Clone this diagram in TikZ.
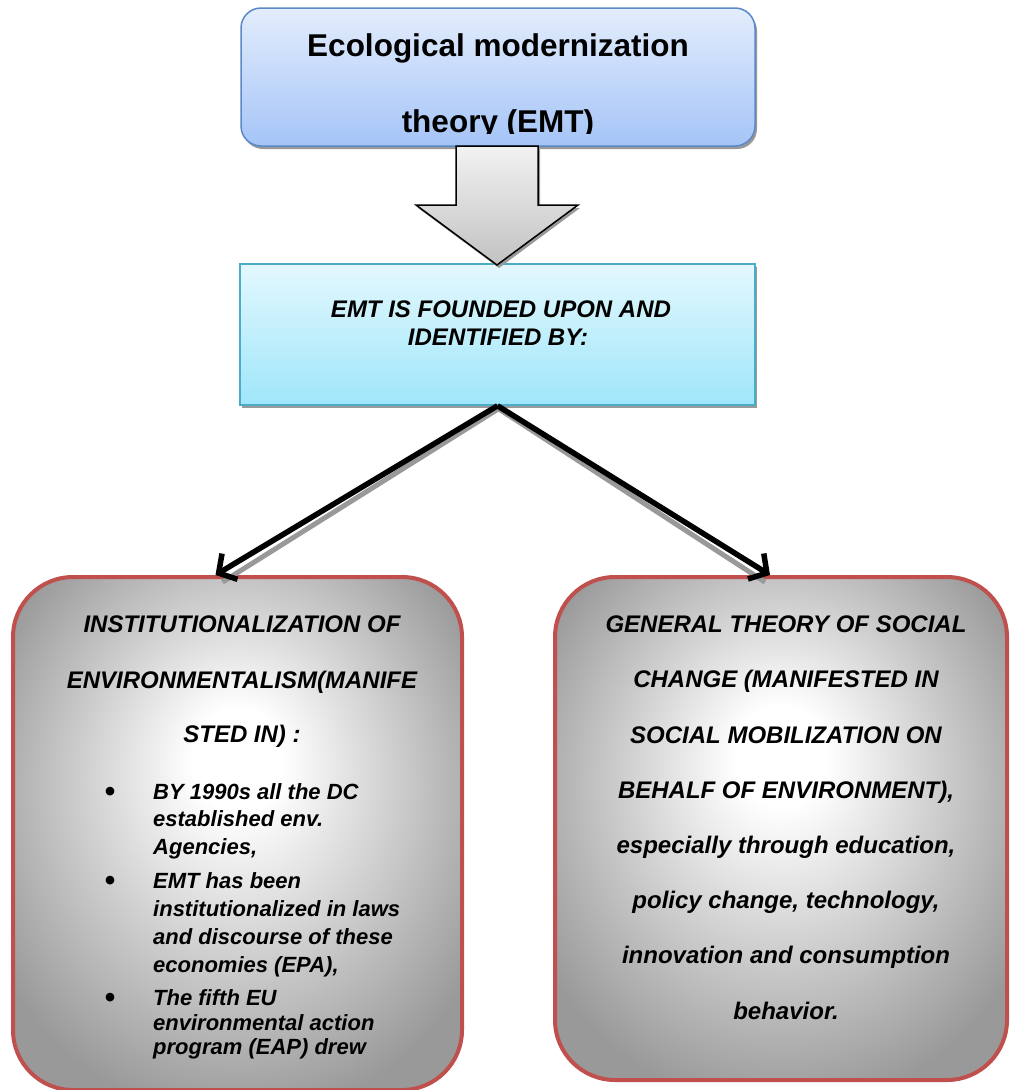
\documentclass[tikz,border=0pt]{standalone}
\usepackage{fontspec}
\setmainfont{Liberation Sans}
\usetikzlibrary{arrows.meta,shadows}
\definecolor{topA}{HTML}{E3EDFC}
\definecolor{topB}{HTML}{A5C4F7}
\definecolor{topLine}{HTML}{5A89C6}
\definecolor{midA}{HTML}{E3F8FD}
\definecolor{midB}{HTML}{9FE6FB}
\definecolor{midLine}{HTML}{4BACC6}
\definecolor{redLine}{HTML}{C0504D}
\definecolor{shadeGray}{HTML}{999999}
\definecolor{arrA}{HTML}{F2F2F2}
\definecolor{arrB}{HTML}{C2C2C2}
\pgfdeclareradialshading{glow}{\pgfpoint{0bp}{8bp}}{color(0bp)=(white); color(5bp)=(white); color(31bp)=(shadeGray); color(50bp)=(shadeGray)}
\begin{document}
\begin{tikzpicture}[x=1pt,y=-1pt,
  boxshadow/.style={drop shadow={shadow xshift=2pt, shadow yshift=-3pt, fill=shadeGray, opacity=1}},
  boxtop/.style={draw=topLine, line width=1.5pt, rounded corners=20pt, top color=topA, bottom color=topB,
    minimum width=514pt, minimum height=138pt, inner sep=0pt, boxshadow},
  boxmid/.style={draw=midLine, line width=1.5pt, top color=midA, bottom color=midB,
    minimum width=515pt, minimum height=141pt, inner sep=0pt, boxshadow},
  redbox/.style={draw=redLine, line width=4pt, rounded corners=60pt, shade, shading=glow, inner sep=0pt},
  blockarrow/.style={draw=black, line width=1.5pt, line join=miter, top color=arrA, bottom color=arrB, boxshadow},
  conn/.style={draw=black, line width=5.5pt, -{Straight Barb[length=13pt,width=30pt,line width=5.5pt]}},
  connshadow/.style={draw=shadeGray, line width=5pt},
  titlefont/.style={font=\fontsize{31.5}{31.5}\selectfont\bfseries, inner sep=0pt, anchor=base},
  midfont/.style={font=\fontsize{24}{24}\selectfont\bfseries\itshape, inner sep=0pt, anchor=base},
  headfont/.style={font=\fontsize{24}{24}\selectfont\bfseries\itshape, inner sep=0pt, anchor=base},
  bulfont/.style={font=\fontsize{22}{22}\selectfont\bfseries\itshape, inner sep=0pt, anchor=base west},
  dotfont/.style={font=\fontsize{30}{30}\selectfont\bfseries, inner sep=0pt, anchor=base}
]
\useasboundingbox (0,0) rectangle (1010,1090);

% top box
\node[boxtop] (emt) at (498,77) {};
\begin{scope}
  \clip (241,0) rectangle (755,133);
  \node[titlefont] (t1) at (498,56) {Ecological modernization};
  \node[titlefont] (t2) at (498,132) {theory (EMT)};
\end{scope}

% middle box
\node[boxmid] (found) at (497.5,334.5) {};
\node[midfont] (f1) at (501,317) {EMT IS FOUNDED UPON AND};
\node[midfont] (f2) at (498,345) {IDENTIFIED BY:};

% block arrow
\path[blockarrow] (456,146) -- (538,146) -- (538,205) -- (578,205) -- (497,265) -- (416,205) -- (456,205) -- cycle;

% bottom boxes
\node[redbox, minimum width=449pt, minimum height=513pt] (inst) at (237.5,833.5) {};
\node[redbox, minimum width=452pt, minimum height=503pt] (change) at (781,828.5) {};

% connectors
\coordinate (lend) at ([xshift=-22pt]inst.north);
\coordinate (rend) at ([xshift=-11pt]change.north);
\begin{scope}[transform canvas={shift={(1pt,-3pt)}}]
  \draw[connshadow] (found.south) -- ([shift={(6pt,-4pt)}]lend);
  \draw[connshadow] (found.south) -- ([shift={(-6pt,-4pt)}]rend);
\end{scope}
\draw[conn] (found.south) -- (lend);
\draw[conn] (found.south) -- (rend);

% left box text
\node[headfont] (h1) at (242,632) {INSTITUTIONALIZATION OF};
\node[headfont] (h2) at (242,688) {ENVIRONMENTALISM(MANIFE};
\node[headfont] (h3) at (242,742) {STED IN) :};
\node[dotfont] (d1) at (110,801) {•};
\node[dotfont] (d2) at (110,890.5) {•};
\node[dotfont] (d3) at (110,1007.5) {•};
\node[bulfont] (l1) at (153,799) {BY 1990s all the DC};
\node[bulfont] (l2) at (153,826.5) {established env.};
\node[bulfont] (l3) at (153,854) {Agencies,};
\node[bulfont] (l4) at (153,888.5) {EMT has been};
\node[bulfont] (l5) at (153,916.5) {institutionalized in laws};
\node[bulfont] (l6) at (153,944.5) {and discourse of these};
\node[bulfont] (l7) at (153,972) {economies (EPA),};
\node[bulfont] (l8) at (153,1005.5) {The fifth EU};
\node[bulfont] (l9) at (153,1030) {environmental action};
\node[bulfont] (l10) at (153,1054) {program (EAP) drew};

% right box text
\node[headfont] (r1) at (786,632.7) {GENERAL THEORY OF SOCIAL};
\node[headfont] (r2) at (786,687.9) {CHANGE (MANIFESTED IN};
\node[headfont] (r3) at (786,743.1) {SOCIAL MOBILIZATION ON};
\node[headfont] (r4) at (786,798.3) {BEHALF OF ENVIRONMENT),};
\node[headfont] (r5) at (786,853.5) {especially through education,};
\node[headfont] (r6) at (786,908.7) {policy change, technology,};
\node[headfont] (r7) at (786,963.9) {innovation and consumption};
\node[headfont] (r8) at (786,1019.1) {behavior.};
\end{tikzpicture}
\end{document}
